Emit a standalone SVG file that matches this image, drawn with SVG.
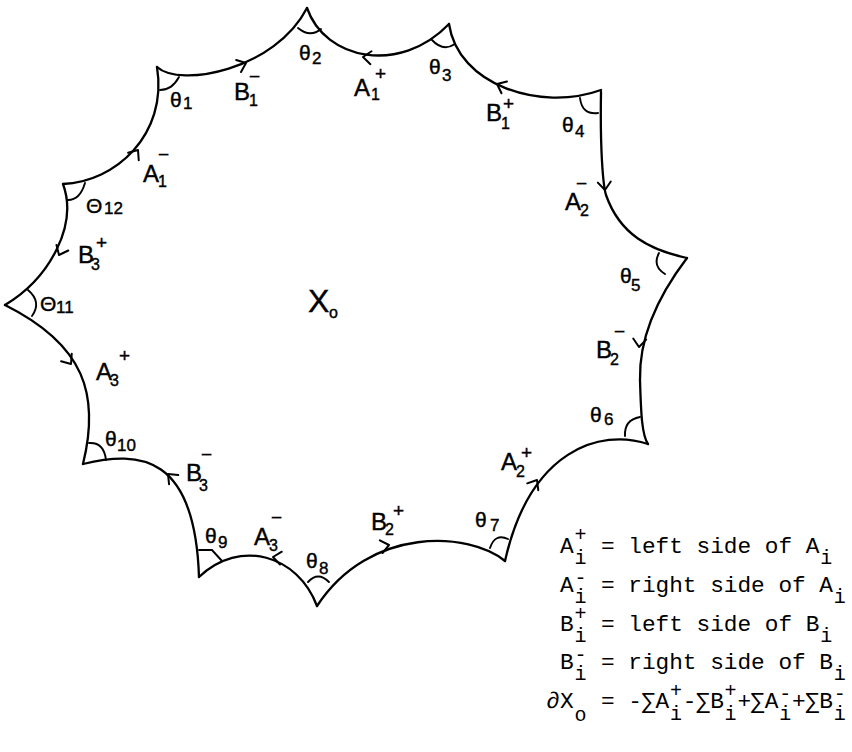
<svg xmlns="http://www.w3.org/2000/svg" xmlns:xlink="http://www.w3.org/1999/xlink" width="852" height="752" viewBox="0 0 852 752">
<style>
.e{fill:none;stroke:#000;stroke-width:2.3;stroke-linecap:round;stroke-linejoin:round}
.a{fill:none;stroke:#000;stroke-width:1.9;stroke-linecap:round}
.lb{font-family:"Liberation Sans",sans-serif;font-size:24px;fill:#000;stroke:#000;stroke-width:0.4}
.sb{font-family:"Liberation Sans",sans-serif;font-size:16px;fill:#000;stroke:#000;stroke-width:0.4}
.sp{font-family:"Liberation Sans",sans-serif;font-size:19px;fill:#000;stroke:#000;stroke-width:0.4}
.th{font-family:"Liberation Sans",sans-serif;font-size:21px;fill:#000;stroke:#000;stroke-width:0.4}
.ts{font-family:"Liberation Sans",sans-serif;font-size:17px;fill:#000;stroke:#000;stroke-width:0.4}
.m{font-family:"Liberation Mono",monospace;font-size:22.75px;fill:#000}
.ms{font-family:"Liberation Mono",monospace;font-size:20px;fill:#000}
</style>
<defs>
<path id="chev" d="M-8,-6.5 L0,0 L-8,6.5" fill="none" stroke="#000" stroke-width="2" stroke-linecap="round" stroke-linejoin="round"/>
</defs>
<rect width="852" height="752" fill="#fff"/>
<g id="connectors">
<path class="e" d="M157,67 C180,88 275,70 307,8"/>
<path class="e" d="M307,8 C325,60 400,75 449,24"/>
<path class="e" d="M449,24 C458,85 540,112 601,90"/>
<path class="e" d="M601,92 C600,150 603,185 606,195 C620,235 650,250 687,258"/>
<path class="e" d="M687,258 C655,300 639,340 640,380 C641,415 642,435 648,444"/>
<path class="e" d="M648,444 C600,428 530,450 505,561"/>
<path class="e" d="M505,561 C470,532 370,525 317,606"/>
<path class="e" d="M317,606 C298,555 240,538 199,577"/>
<path class="e" d="M199,577 C195,455 140,450 83,464"/>
<path class="e" d="M83,464 C100,395 85,345 5,305"/>
<path class="e" d="M5,305 C50,278 78,225 63,184"/>
<path class="e" d="M63,184 C115,182 168,135 157,67"/>
<use xlink:href="#chev" transform="translate(246,63) rotate(-22)"/>
<use xlink:href="#chev" transform="translate(363,57) rotate(185)"/>
<use xlink:href="#chev" transform="translate(497,84) rotate(205)"/>
<use xlink:href="#chev" transform="translate(605,190) rotate(85)"/>
<use xlink:href="#chev" transform="translate(639,347) rotate(95)"/>
<use xlink:href="#chev" transform="translate(537,480) rotate(-58)"/>
<use xlink:href="#chev" transform="translate(389,545) rotate(-12)"/>
<use xlink:href="#chev" transform="translate(273,557) rotate(188)"/>
<use xlink:href="#chev" transform="translate(168,474) rotate(225)"/>
<use xlink:href="#chev" transform="translate(71,364) rotate(55)"/>
<use xlink:href="#chev" transform="translate(59,255) rotate(115)"/>
<use xlink:href="#chev" transform="translate(138,150) rotate(-55)"/>
</g>
<g id="edge-labels">
<text class="lb" x="234" y="100">B</text><text class="sb" x="249" y="106">1</text><text class="sp" x="249" y="83">−</text>
<text class="lb" x="354" y="96">A</text><text class="sb" x="371" y="100">1</text><text class="sp" x="375" y="80">+</text>
<text class="lb" x="486" y="121">B</text><text class="sb" x="501" y="129">1</text><text class="sp" x="503" y="110">+</text>
<text class="lb" x="565" y="210">A</text><text class="sb" x="580" y="216">2</text><text class="sp" x="576" y="190">−</text>
<text class="lb" x="596" y="358">B</text><text class="sb" x="610" y="365">2</text><text class="sp" x="614" y="338">−</text>
<text class="lb" x="501" y="470">A</text><text class="sb" x="516" y="477">2</text><text class="sp" x="521" y="459">+</text>
<text class="lb" x="371" y="530">B</text><text class="sb" x="385" y="535">2</text><text class="sp" x="393" y="517">+</text>
<text class="lb" x="254" y="545">A</text><text class="sb" x="269" y="551">3</text><text class="sp" x="271" y="524">−</text>
<text class="lb" x="186" y="481">B</text><text class="sb" x="199" y="491">3</text><text class="sp" x="201" y="461">−</text>
<text class="lb" x="96" y="380">A</text><text class="sb" x="110" y="386">3</text><text class="sp" x="119" y="362">+</text>
<text class="lb" x="78" y="263">B</text><text class="sb" x="91" y="270">3</text><text class="sp" x="96" y="249">+</text>
<text class="lb" x="143" y="182">A</text><text class="sb" x="158" y="187">1</text><text class="sp" x="158" y="161">−</text>
</g>
<g id="v1"><path class="a" d="M160,90 Q172,90 179,77"/><text class="th" x="170" y="107">θ</text><text class="ts" x="183" y="109">1</text></g>
<g id="v2"><path class="a" d="M298,28 Q310,38 321,29"/><text class="th" x="299" y="60">θ</text><text class="ts" x="312" y="64">2</text></g>
<g id="v3"><path class="a" d="M432,40 Q443,52 455,44"/><text class="th" x="429" y="74">θ</text><text class="ts" x="442" y="81">3</text></g>
<g id="v4"><path class="a" d="M580,98 Q582,115 598,113"/><text class="th" x="562" y="132">θ</text><text class="ts" x="575" y="137">4</text></g>
<g id="v5"><path class="a" d="M659,253 Q652,266 665,274"/><text class="th" x="620" y="283">θ</text><text class="ts" x="631" y="291">5</text></g>
<g id="v6"><path class="a" d="M625,436 Q624,420 640,417"/><text class="th" x="590" y="422">θ</text><text class="ts" x="604" y="425">6</text></g>
<g id="v7"><path class="a" d="M490,548 Q495,533 508,539"/><text class="th" x="475" y="527">θ</text><text class="ts" x="490" y="531">7</text></g>
<g id="v8"><path class="a" d="M308,582 Q318,571 329,582"/><text class="th" x="306" y="568">θ</text><text class="ts" x="319" y="574">8</text></g>
<g id="v9"><path class="a" d="M199,550 L212,550 L222,561"/><text class="th" x="205" y="543">θ</text><text class="ts" x="218" y="548">9</text></g>
<g id="v10"><path class="a" d="M89,443 Q104,442 106,460"/><text class="th" x="105" y="446">θ</text><text class="ts" x="117" y="451">10</text></g>
<g id="v11"><path class="a" d="M28,290 Q42,302 32,316"/><text class="th" x="40" y="311">Θ</text><text class="ts" x="56" y="313">11</text></g>
<g id="v12"><path class="a" d="M68,200 Q80,200 85,183"/><text class="th" x="86" y="213">Θ</text><text class="ts" x="104" y="214">12</text></g>
<g id="x0"><text class="lb" x="308" y="312" style="font-size:32px">X</text><text class="sb" x="329" y="318">o</text></g>
<g id="legend">
<text class="m" x="560" y="553">A</text><text class="ms" x="574.5" y="541">+</text><text class="ms" x="574.5" y="564">i</text>
<text class="m" x="600.95" y="553">=</text><text class="m" x="628.25" y="553">left side of</text><text class="m" x="805.7" y="553">A</text><text class="ms" x="820.2" y="564">i</text>
<text class="m" x="560" y="592">A</text><text class="ms" x="574.5" y="584">-</text><text class="ms" x="574.5" y="603">i</text>
<text class="m" x="600.95" y="592">=</text><text class="m" x="628.25" y="592">right side of</text><text class="m" x="819.35" y="592">A</text><text class="ms" x="833.8" y="603">i</text>
<text class="m" x="560" y="631">B</text><text class="ms" x="574.5" y="620">+</text><text class="ms" x="574.5" y="642">i</text>
<text class="m" x="600.95" y="631">=</text><text class="m" x="628.25" y="631">left side of</text><text class="m" x="805.7" y="631">B</text><text class="ms" x="820.2" y="642">i</text>
<text class="m" x="560" y="669">B</text><text class="ms" x="574.5" y="661">-</text><text class="ms" x="574.5" y="680">i</text>
<text class="m" x="600.95" y="669">=</text><text class="m" x="628.25" y="669">right side of</text><text class="m" x="819.35" y="669">B</text><text class="ms" x="833.8" y="680">i</text>
<text class="m" x="546.35" y="708">∂X</text><text class="ms" x="574.5" y="721">o</text><text class="m" x="600.95" y="708">=</text>
<text class="m" x="628.25" y="708">-∑A</text><text class="ms" x="670" y="697">+</text><text class="ms" x="670" y="720">i</text>
<text class="m" x="682.85" y="708">-∑B</text><text class="ms" x="724.6" y="697">+</text><text class="ms" x="724.6" y="720">i</text>
<text class="m" x="737.45" y="708">+∑A</text><text class="ms" x="779.2" y="700">-</text><text class="ms" x="779.2" y="720">i</text>
<text class="m" x="792.05" y="708">+∑B</text><text class="ms" x="833.8" y="700">-</text><text class="ms" x="833.8" y="720">i</text>
</g>
</svg>
